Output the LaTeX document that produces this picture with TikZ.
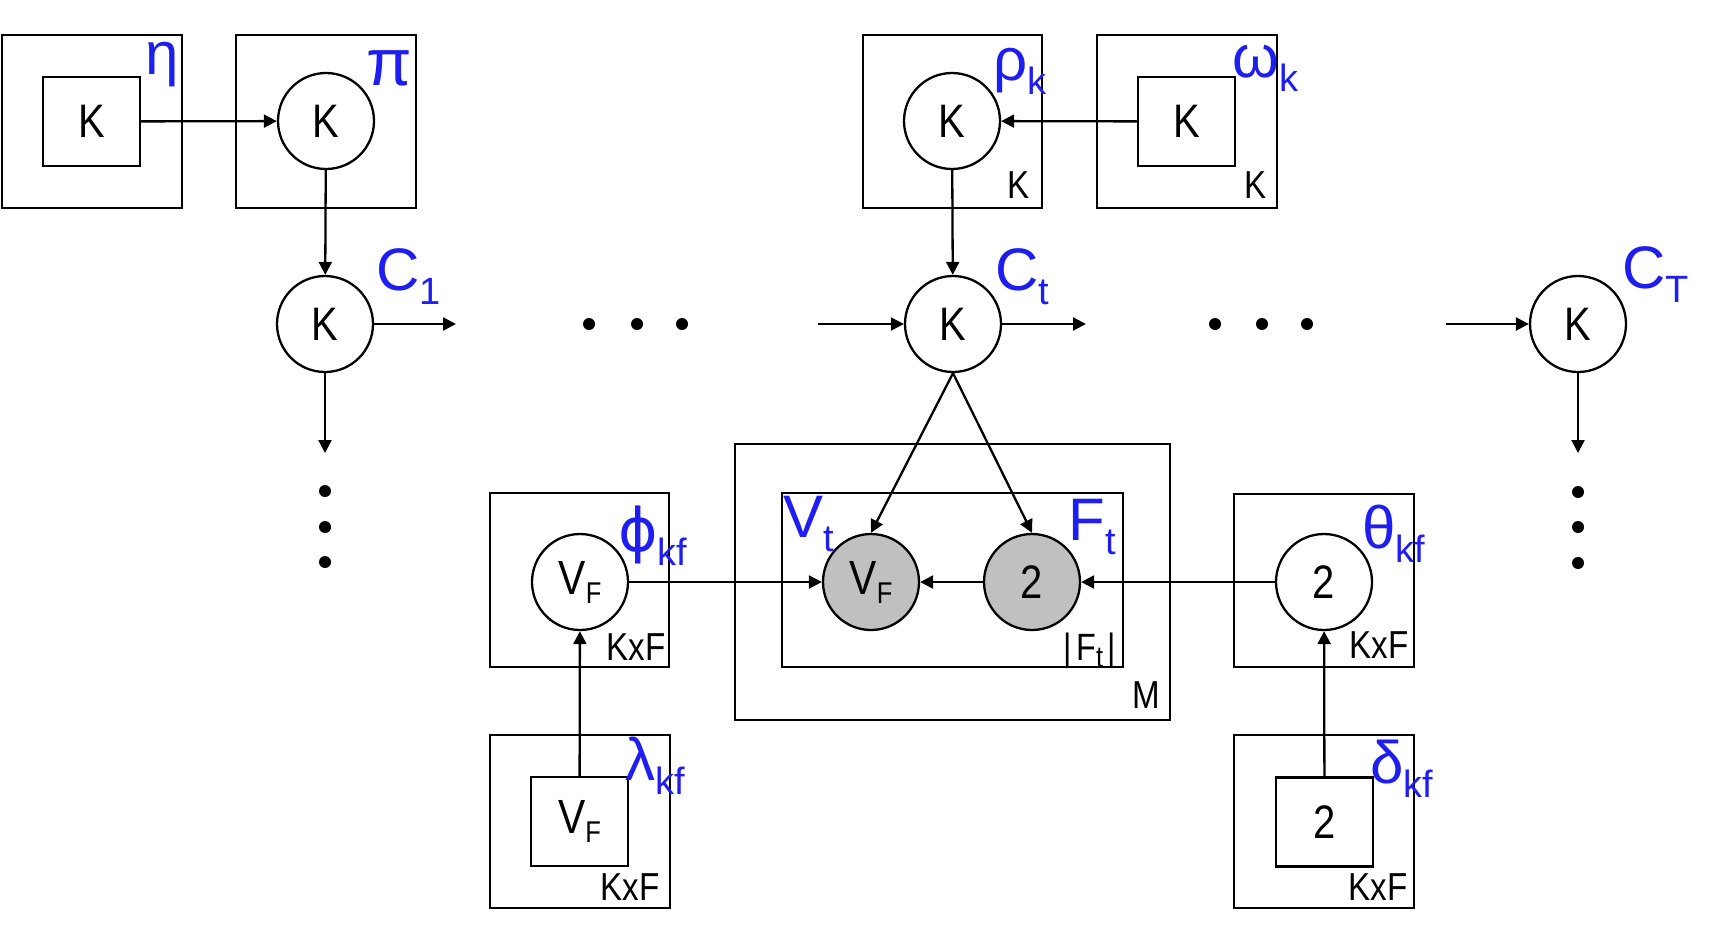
\documentclass[tikz,border=0pt]{standalone}
\usepackage{fontspec}
\setmainfont[FakeStretch=0.85]{Liberation Sans}
\newfontfamily\bluefont{Liberation Sans}
\newfontfamily\dvsfont{DejaVu Sans}
\usetikzlibrary{arrows.meta}
\definecolor{labblue}{RGB}{30,30,240}
\definecolor{obsgray}{RGB}{192,192,192}
\newcommand{\blab}[2]{{\bluefont\fontsize{30}{30}\selectfont #1}\raisebox{-7pt}{\bluefont\fontsize{19}{19}\selectfont #2}}
\newcommand{\vfl}{{\fontsize{24}{24}\selectfont V}\raisebox{-4.5pt}{\fontsize{15}{15}\selectfont F}}
\begin{document}
\begin{tikzpicture}[x=0.5pt,y=-0.5pt,
  lw/.style={line width=1.15pt},
  var/.style={circle, draw, lw, minimum size=48pt, inner sep=0pt, font=\fontsize{23.5}{23.5}\selectfont},
  obs/.style={var, fill=obsgray},
  hyp/.style={rectangle, draw, lw, minimum width=48.5pt, minimum height=44.5pt, inner sep=0pt, font=\fontsize{23.5}{23.5}\selectfont},
  plate/.style={draw, lw},
  arr/.style={lw, -{Triangle[length=6.5pt,width=6.5pt]}},
  tdot/.style={circle, fill, minimum size=6pt, inner sep=0pt},
  bluelab/.style={text=labblue, anchor=base west, inner sep=0pt},
  plab/.style={anchor=base east, inner sep=0pt, font=\fontsize{19.5}{19.5}\selectfont},
]
\useasboundingbox (0,0) rectangle (1711,938);
% plates
\draw[plate] (2,35) rectangle (182,208);
\draw[plate] (236,35) rectangle (416,208);
\draw[plate] (863,35) rectangle (1042,208);
\draw[plate] (1097,35) rectangle (1277,208);
\draw[plate] (490,493) rectangle (669,667);
\draw[plate] (1234,494) rectangle (1414,667);
\draw[plate] (490,735) rectangle (670,908);
\draw[plate] (1234,735) rectangle (1414,908);
\draw[plate] (735,444) rectangle (1170,720);
\draw[plate] (782,493) rectangle (1123,667);
% nodes
\node[hyp] (eta) at (91.5,121.5) {K};
\node[var] (pi) at (326,121) {K};
\node[var] (rho) at (952,121) {K};
\node[hyp] (omega) at (1186.5,121.5) {K};
\node[var] (c1) at (325,324) {K};
\node[var] (ct) at (953,324) {K};
\node[var] (cT) at (1578,324) {K};
\node[var] (phi) at (580,582) {\vfl};
\node[obs] (v) at (871,582) {\vfl};
\node[obs] (f) at (1032,582) {2};
\node[var] (theta) at (1324,582) {2};
\node[hyp] (lambda) at (579.5,821.5) {\vfl};
\node[hyp] (delta) at (1324.5,822) {2};
% free ends
\coordinate (c1r) at (456,324);
\coordinate (ctl) at (818,324);
\coordinate (ctr) at (1086,324);
\coordinate (cTl) at (1446,324);
\coordinate (c1d) at (325,453);
\coordinate (cTd) at (1578,453);
% dots
\node[tdot] (h1) at (589,324) {};
\node[tdot] (h2) at (637,324) {};
\node[tdot] (h3) at (682,324) {};
\node[tdot] (h4) at (1215,324) {};
\node[tdot] (h5) at (1262,324) {};
\node[tdot] (h6) at (1307,324) {};
\node[tdot] (v1) at (325,491) {};
\node[tdot] (v2) at (325,527) {};
\node[tdot] (v3) at (325,562) {};
\node[tdot] (v4) at (1578,492) {};
\node[tdot] (v5) at (1578,527) {};
\node[tdot] (v6) at (1578,563) {};
% arrows
\draw[arr] (eta) -- (pi);
\draw[arr] (omega) -- (rho);
\draw[arr] (pi) -- (c1);
\draw[arr] (rho) -- (ct);
\draw[arr] (c1) -- (c1r);
\draw[arr] (ctl) -- (ct);
\draw[arr] (ct) -- (ctr);
\draw[arr] (cTl) -- (cT);
\draw[arr] (c1) -- (c1d);
\draw[arr] (cT) -- (cTd);
\draw[arr] (ct.south) -- (v.north);
\draw[arr] (ct.south) -- (f.north);
\draw[arr] (phi) -- (v);
\draw[arr] (f) -- (v);
\draw[arr] (theta) -- (f);
\draw[arr] (lambda) -- (phi);
\draw[arr] (delta) -- (theta);
% blue labels
\node[bluelab, font=\bluefont\fontsize{30}{30}\selectfont] (leta) at (145,74) {η};
\node[bluelab, font=\bluefont\fontsize{33}{33}\selectfont] (lpi) at (366,85) {π};
\node[bluelab] (lrho) at (993,80) {\blab{ρ}{k}};
\node[bluelab] (lomega) at (1232,77) {\blab{ω}{k}};
\node[bluelab] (lc1) at (376,290) {\blab{C}{1}};
\node[bluelab] (lct) at (995,290) {\blab{C}{t}};
\node[bluelab] (lcT) at (1622,288) {\blab{C}{T}};
\node[bluelab] (lphi) at (618,551) {{\dvsfont\fontsize{30}{30}\selectfont ϕ}\raisebox{-7pt}{\bluefont\fontsize{19}{19}\selectfont kf}};
\node[bluelab] (lv) at (783,537) {\blab{V}{t}};
\node[bluelab] (lf) at (1068,540) {\blab{F}{t}};
\node[bluelab] (ltheta) at (1362,548) {\blab{θ}{kf}};
\node[bluelab] (ldelta) at (1370,783) {\blab{δ}{kf}};
\node[bluelab] (llambda) at (625,780) {\blab{λ}{kf}};
% plate labels
\node[plab] (pk1) at (1030,198) {K};
\node[plab] (pk2) at (1267,198) {K};
\node[plab] (pk3) at (666,660) {KxF};
\node[plab] (pk4) at (1409,658) {KxF};
\node[plab] (pk5) at (1408,900) {KxF};
\node[plab] (pk6) at (660,900) {KxF};
\node[plab] (pm) at (1160,708) {M};
\node[plab] (pft) at (1116,660) {{\fontsize{19}{19}\selectfont |\hspace{2.5pt}F}\raisebox{-3.5pt}{\fontsize{15}{15}\selectfont t}{\fontsize{19}{19}\selectfont \hspace{2pt}|}};
\end{tikzpicture}
\end{document}
